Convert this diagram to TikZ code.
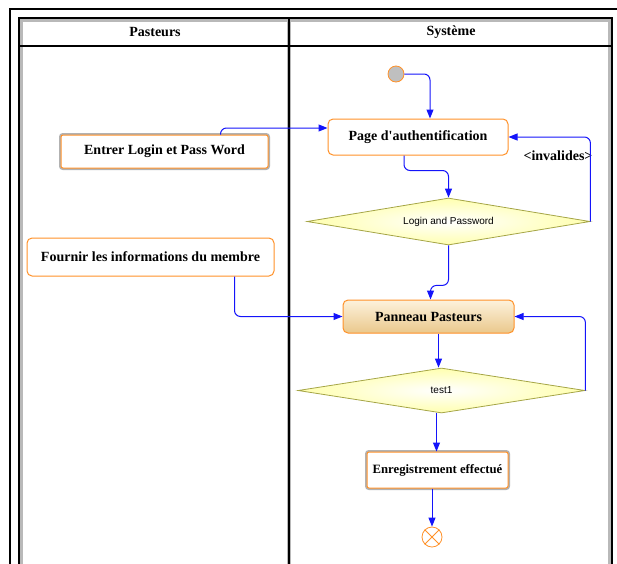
\documentclass[tikz,border=0pt]{standalone}
\usepackage{fontspec}
\setmainfont{Liberation Serif}[Ligatures=TeXOff]
\newfontfamily\arialf{Liberation Sans}
\usetikzlibrary{shapes.geometric,arrows.meta,calc}
\definecolor{flowblue}{RGB}{20,20,250}
\definecolor{boxorange}{RGB}{255,145,40}
\definecolor{olivec}{RGB}{165,165,70}
\definecolor{diafill}{RGB}{255,255,175}
\definecolor{tanlight}{RGB}{253,242,220}
\definecolor{tandark}{RGB}{234,200,140}
\begin{document}
\begin{tikzpicture}[x=1pt,y=-1pt,
  flow/.style={draw=flowblue, line width=1pt, rounded corners=6pt, -{Triangle[length=9pt,width=7pt]}},
  actbox/.style={draw=boxorange, line width=1pt, rounded corners=5pt, fill=white, font=\fontsize{14}{16}\selectfont\bfseries, inner sep=0pt, align=center},
  shadowbox/.style={actbox, rounded corners=2pt, preaction={draw=gray!60, line width=4pt}},
  decision/.style={diamond, aspect=6, draw=olivec, line width=0.8pt, inner sep=0pt, inner color=white, outer color=diafill, font=\arialf\fontsize{10}{12}\selectfont},
  header/.style={font=\fontsize{14}{16}\selectfont\bfseries},
  guard/.style={font=\fontsize{14}{16}\selectfont\bfseries},
  frame/.style={draw=black, line width=1.2pt},
  frameshadow/.style={draw=gray!55, line width=4pt}]
\useasboundingbox (0,0) rectangle (617,563);
% outer frame
\draw[line width=2pt] (10,580) -- (10,9) -- (630,9);
% inner frame shadows
\draw[frameshadow] (21,580) -- (21,20) -- (610,20) -- (610,580);
\draw[frameshadow] (289,20) -- (289,580);
% inner frame lines
\draw[frame] (19,580) -- (19,18) -- (612,18) -- (612,580);
\draw[frame] (19,46) -- (612,46);
\draw[frame] (289,18) -- (289,580);
\node[header] (h1) at (155,32) {Pasteurs};
\node[header] (h2) at (451,32) {Système};
% nodes
\node[circle, draw=boxorange, fill=gray!50, minimum size=16pt, inner sep=0pt, line width=0.8pt] (init) at (396,74) {};
\node[actbox, minimum width=180pt, minimum height=36pt] (page) at (418,137) {Page d'authentification};
\node[shadowbox, minimum width=207pt, minimum height=33pt] (entrer) at (164.5,151.5) {Entrer Login et Pass Word};
\node[actbox, minimum width=247pt, minimum height=38pt] (fournir) at (150.5,257) {Fournir les informations du membre};
\node[decision, minimum width=283pt, minimum height=47pt] (login) at (448.5,221.5) {Login and Password};
\node[actbox, top color=tanlight, bottom color=tandark, minimum width=171pt, minimum height=33pt] (panneau) at (428.5,316.5) {Panneau Pasteurs};
\node[decision, minimum width=287pt, minimum height=45pt] (test1) at (441.5,390.5) {test1};
\node[shadowbox, font=\fontsize{12.7}{15}\selectfont\bfseries, minimum width=141pt, minimum height=36pt] (enreg) at (437.5,470) {Enregistrement effectué};
\node[circle, draw=boxorange, fill=white, minimum size=20pt, inner sep=0pt, line width=0.8pt] (final) at (432,537) {};
\draw[boxorange, line width=0.8pt] (final.north east) -- (final.south west) (final.north west) -- (final.south east);
\node[guard] (inv) at (558,156) {<invalides>};
% connectors
\draw[flow] (init.east) -| ($(page.north)+(12,0)$);
\draw[flow] ($(entrer.north)+(56,0)$) |- ($(page.west)+(0,-9)$);
\draw[flow] ($(page.south)+(-14,0)$) -- ++(0,15) -| (login.north);
\draw[flow] (login.east) |- (page.east);
\draw[flow] (login.south) -- ++(0,40) -| ($(panneau.north)+(2,0)$);
\draw[flow] ($(fournir.south)+(84,0)$) |- (panneau.west);
\coordinate (pb) at ($(panneau.south)+(10,0)$);
\draw[flow] (pb) -- (pb |- test1.north);
\draw[flow] (test1.east) |- (panneau.east);
\coordinate (tb) at ($(test1.south)+(-5,0)$);
\draw[flow] (tb) -- (tb |- enreg.north);
\draw[flow] (final.north |- enreg.south) -- (final.north);
\end{tikzpicture}
\end{document}
